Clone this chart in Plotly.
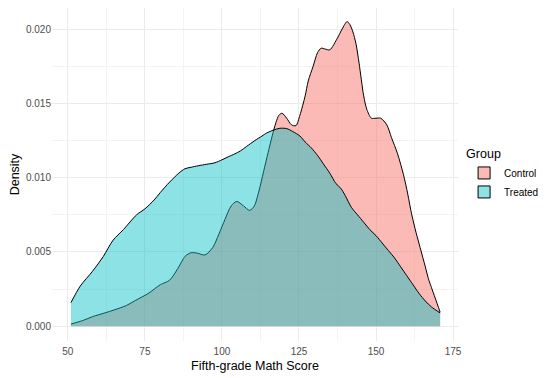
import plotly.graph_objects as go

# Density estimates
control_x = [51, 55, 58, 62, 65, 69, 72, 76, 80, 83, 86, 88, 90, 92, 94.5, 97, 99, 101, 103,
             104.8, 107, 109, 110.5, 112, 113.5, 115, 116.3, 117.5, 118.5, 119.5, 121, 122.6,
             124, 125.3, 127, 128, 129.6, 131, 132.2, 133.5, 135, 137.5, 139, 140.6, 141.5,
             142.5, 143.5, 144.5, 146, 147, 148.5, 150, 151.5, 153.5, 155, 157, 158.9, 160,
             161.6, 163, 164.3, 166, 167, 168, 169.2, 170.8]
control_y = [0.00015, 0.0004, 0.00065, 0.0009, 0.0011, 0.0014, 0.00175, 0.0022, 0.0028, 0.0031,
             0.0040, 0.0047, 0.00495, 0.00492, 0.0048, 0.0053, 0.0062, 0.0072, 0.0081,
             0.0084, 0.0081, 0.0078, 0.0081, 0.0091, 0.0104, 0.0117, 0.0128, 0.0137, 0.0142,
             0.01433, 0.0140, 0.01355, 0.0135, 0.0142, 0.0155, 0.0165, 0.0175, 0.0184, 0.01871,
             0.01865, 0.0186, 0.0194, 0.0200, 0.0205, 0.0203, 0.0198, 0.0190, 0.0177, 0.0155,
             0.0146, 0.0140, 0.0140, 0.0140, 0.01355, 0.0127, 0.0116, 0.0102, 0.0092, 0.0075,
             0.0063, 0.0053, 0.0040, 0.0032, 0.0026, 0.0019, 0.00095]

treated_x = [51, 54, 58, 61.5, 64.7, 68, 72.3, 75, 78, 80, 83, 86, 88, 90, 92.3, 95, 97.7, 100,
             102, 104.2, 106, 108, 110.7, 113, 114.5, 116.7, 118.8, 121, 123, 125.3, 127, 129,
             131, 133, 135, 137, 138.5, 140, 142, 144, 146, 148, 150, 152, 154, 156, 158, 160,
             162, 164, 166, 168, 170.8]
treated_y = [0.00159, 0.0027, 0.0037, 0.0047, 0.0058, 0.0065, 0.0075, 0.0079, 0.0085, 0.0090,
             0.0097, 0.0103, 0.0106, 0.0107, 0.0108, 0.0109, 0.0110, 0.0112, 0.0114, 0.0116,
             0.0118, 0.0121, 0.0125, 0.0128, 0.0130, 0.0132, 0.01332, 0.0133, 0.0131, 0.0128,
             0.0124, 0.0120, 0.0115, 0.0109, 0.0103, 0.0096, 0.0093, 0.0088, 0.0080, 0.0075,
             0.0070, 0.0065, 0.0061, 0.0056, 0.0051, 0.0046, 0.0040, 0.0034, 0.0028, 0.0022,
             0.0017, 0.0013, 0.0009]

groups = ["Control", "Treated"]
group_fill = ["rgba(248,118,109,0.5)", "rgba(0,191,196,0.45)"]
x_ticks = [50, 75, 100, 125, 150, 175]
y_ticks = [0.000, 0.005, 0.010, 0.015, 0.020]
y_tick_labels = ["0.000", "0.005", "0.010", "0.015", "0.020"]

font = "Liberation Sans, Arial, sans-serif"

fig = go.Figure()
for name, xs, ys, fc in [(groups[0], control_x, control_y, group_fill[0]),
                         (groups[1], treated_x, treated_y, group_fill[1])]:
    fig.add_trace(go.Scatter(
        x=xs, y=ys, name=name, mode="lines", showlegend=False, legendgroup=name,
        line=dict(color="black", width=1, shape="spline", smoothing=0.8),
        fill="tozeroy", fillcolor=fc,
    ))
# legend keys (square boxes like ggplot)
for name, fc in zip(groups, group_fill):
    fig.add_trace(go.Bar(
        x=[None], y=[None], name=name, legendgroup=name, showlegend=True,
        marker=dict(color=fc, line=dict(color="black", width=1)),
    ))

grid = "#EBEBEB"
# page body adds an 8px offset, so the figure is 8px smaller to fill the window
fig.update_layout(
    width=543, height=370,
    margin=dict(l=44, r=93, t=0, b=37),
    paper_bgcolor="white", plot_bgcolor="white",
    font=dict(family=font, color="black"),
    xaxis=dict(
        range=[44.85, 176.6], tickvals=x_ticks, ticktext=[str(v) for v in x_ticks],
        showgrid=True, gridcolor=grid, gridwidth=1, zeroline=False, showline=False,
        ticks="", tickfont=dict(size=10, color="#4D4D4D"), automargin=False,
        ticklabelstandoff=3,
        minor=dict(tickvals=[62.5, 87.5, 112.5, 137.5, 162.5], showgrid=True,
                   gridcolor="#F3F3F3", gridwidth=0.5),
        title=dict(text="Fifth-grade Math Score", font=dict(size=12.5), standoff=5),
    ),
    yaxis=dict(
        range=[-0.000989, 0.021413], tickvals=y_ticks, ticktext=y_tick_labels,
        showgrid=True, gridcolor=grid, gridwidth=1, zeroline=False, showline=False,
        ticks="", tickfont=dict(size=10, color="#4D4D4D"), automargin=False,
        minor=dict(tickvals=[0.0025, 0.0075, 0.0125, 0.0175], showgrid=True,
                   gridcolor="#F3F3F3", gridwidth=0.5),
        title=dict(text="Density", font=dict(size=12.5), standoff=8),
    ),
    legend=dict(
        title=dict(text="Group", font=dict(size=12.5)),
        font=dict(size=10),
        x=1.015, xanchor="left", y=0.597, yanchor="top",
        bgcolor="rgba(0,0,0,0)", tracegroupgap=0, itemwidth=30,
    ),
    showlegend=True,
)

fig.write_html("out.html")
